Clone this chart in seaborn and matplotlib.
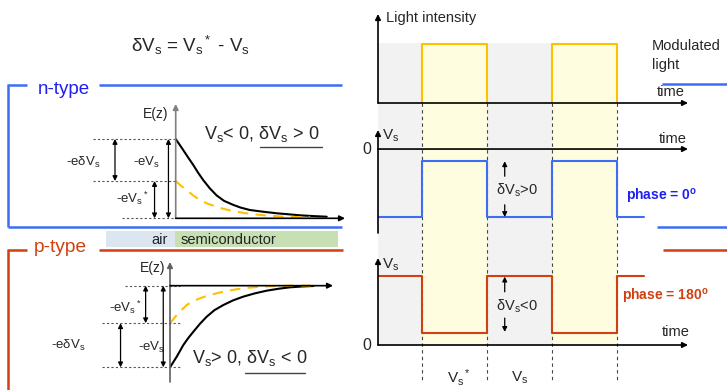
import numpy as np
import matplotlib
matplotlib.use("Agg")
import matplotlib.pyplot as plt
import seaborn as sns

sns.set_theme(style="white")
plt.rcParams['font.family'] = ['Liberation Sans', 'DejaVu Sans']
plt.rcParams['mathtext.fontset'] = 'custom'
plt.rcParams['mathtext.rm'] = 'Liberation Sans'
plt.rcParams['mathtext.it'] = 'Liberation Sans:italic'

# ---------------- data ----------------
# n-type band bending (depth z, energy E; -eVs = 1)
n_z_black = [0, 0.025, 0.05, 0.083, 0.117, 0.15, 0.183, 0.225, 0.27, 0.32, 0.38, 0.43,
             0.49, 0.57, 0.67, 0.75, 0.82, 0.91, 1.0]
n_E_black = [1.0, 0.93, 0.86, 0.765, 0.67, 0.57, 0.48, 0.38, 0.29, 0.22, 0.17, 0.135,
             0.105, 0.085, 0.063, 0.05, 0.038, 0.028, 0.02]
n_z_light = [0, 0.035, 0.073, 0.115, 0.161, 0.21, 0.27, 0.32, 0.38, 0.46, 0.56, 0.71, 0.89]
n_E_light = [0.47, 0.41, 0.357, 0.29, 0.23, 0.185, 0.146, 0.117, 0.092, 0.065, 0.042, 0.02, 0.013]
n_eVs, n_eVs_star = 1.0, 0.47

# p-type band bending
p_z_black = [0, 0.047, 0.093, 0.128, 0.163, 0.21, 0.256, 0.31, 0.372, 0.44, 0.51, 0.59,
             0.675, 0.76, 0.837, 0.92, 1.0]
p_E_black = [-1.0, -0.87, -0.727, -0.64, -0.564, -0.465, -0.38, -0.30, -0.237, -0.18,
             -0.135, -0.095, -0.061, -0.037, -0.02, -0.01, -0.004]
p_z_light = [0, 0.047, 0.08, 0.116, 0.16, 0.209, 0.265, 0.326, 0.39, 0.465, 0.55, 0.628,
             0.73, 0.837, 1.0]
p_E_light = [-0.46, -0.36, -0.30, -0.237, -0.19, -0.155, -0.12, -0.093, -0.066, -0.044,
             -0.025, -0.012, -0.004, 0.0, 0.0]
p_eVs, p_eVs_star = -1.0, -0.46

# modulated light and surface voltage (time in half periods)
time_edges = [0.0, 0.68, 1.68, 2.68, 3.68, 4.10]
light = [0, 1, 0, 1, 0]
vs_n = [-1.0, -0.18, -1.0, -0.18, -1.0]
vs_p = [1.0, 0.17, 1.0, 0.17, 1.0]

# ---------------- styles ----------------
BLUE = '#3d6df2'
NBLUE = '#1f1ff0'
RED = '#d04010'
YEL = '#ffc000'
YFILL = '#fffde0'
GRAY_BG = '#f2f2f2'
W, H = 727, 390

fig = plt.figure(figsize=(W / 100, H / 100), dpi=100)


def add_ax(x0, y0, x1, y1):
    ax = fig.add_axes([x0 / W, 1 - y1 / H, (x1 - x0) / W, (y1 - y0) / H])
    ax.set_facecolor('none')
    ax.axis('off')
    return ax


def arrow(ax, p0, p1, lw=1.0, color='black', style='-|>', ms=8, coords='data'):
    ax.annotate('', xy=p1, xytext=p0, xycoords=coords, textcoords=coords,
                arrowprops=dict(arrowstyle=style, lw=lw, color=color,
                                mutation_scale=ms, shrinkA=0, shrinkB=0),
                annotation_clip=False)


def steps(edges, vals):
    xs, ys = [], []
    for i, v in enumerate(vals):
        xs += [edges[i], edges[i + 1]]
        ys += [v, v]
    return xs, ys


# background axes in pixel space
bg = add_ax(0, 0, W, H)
bg.set_xlim(0, W)
bg.set_ylim(H, 0)
# foreground text layer in pixel space
fg = add_ax(0, 0, W, H)
fg.set_xlim(0, W)
fg.set_ylim(H, 0)
fg.set_zorder(10)

# title
bg.text(190, 45, r'$\mathregular{δV_s}$ = $\mathregular{V_s}^*$ - $\mathregular{V_s}$',
        fontsize=13.5, ha='center', va='center')

# n-type frame
fl = dict(color=BLUE, lw=1.8, solid_capstyle='butt')
bg.plot([8, 27], [85, 85], **fl)
bg.plot([99, 342], [85, 85], **fl)
bg.plot([8, 8], [84, 227], **fl)
bg.plot([8, 342], [227, 227], **fl)
bg.plot([662, 727], [84, 84], **fl)
bg.plot([657, 727], [227, 227], **fl)
bg.text(64, 89, 'n-type', color=NBLUE, fontsize=13.5, ha='center', va='center')

# p-type frame
fr = dict(color=RED, lw=1.8, solid_capstyle='butt')
bg.plot([8, 27], [250, 250], **fr)
bg.plot([99, 343], [250, 250], **fr)
bg.plot([8, 8], [249, 390], **fr)
bg.plot([663, 727], [250, 250], **fr)
bg.text(60, 248, 'p-type', color=RED, fontsize=13.8, ha='center', va='center')

# air / semiconductor bar
bg.add_patch(plt.Rectangle((106, 231), 69, 16, color='#dce6f1', lw=0))
bg.add_patch(plt.Rectangle((175, 231), 163, 16, color='#c6e0b4', lw=0))
bg.text(168, 240, 'air', fontsize=10.5, ha='right', va='center', color='#222222')
bg.text(181, 240, 'semiconductor', fontsize=10.5, ha='left', va='center', color='#222222')

# ---------------- n-type band diagram ----------------
axn = add_ax(175.7, 104, 345, 218.3)
axn.set_xlim(0, 1.121)
axn.set_ylim(0, 1.441)
sns.lineplot(x=n_z_black, y=n_E_black, ax=axn, color='black', lw=1.5)
sns.lineplot(x=n_z_light, y=n_E_light, ax=axn, color=YEL, lw=1.5, linestyle=(0, (5, 3.5)))
arrow(axn, (0, 0), (0, 1.441), lw=1.2, color='#808080')
arrow(axn, (0, 0), (1.121, 0), lw=1.2)
dl = dict(color='#555555', lw=0.8, ls=(0, (2, 2)), clip_on=False)
axn.plot([-0.548, 0], [n_eVs, n_eVs], **dl)
axn.plot([-0.548, 0], [n_eVs_star, n_eVs_star], **dl)
axn.plot([-0.356, 0], [0, 0], **dl)
arrow(axn, (-0.402, n_eVs), (-0.402, n_eVs_star), lw=0.9, style='<|-|>', ms=7)
arrow(axn, (-0.048, 0), (-0.048, n_eVs), lw=0.9, style='<|-|>', ms=7)
arrow(axn, (-0.14, 0), (-0.14, n_eVs_star), lw=0.9, style='<|-|>', ms=7)
st = dict(fontsize=9.5, ha='center', va='center')
axn.text(-0.61, 0.70, r'-e$\mathregular{δV_s}$', **st)
axn.text(-0.19, 0.70, r'-e$\mathregular{V_s}$', **st)
axn.text(-0.29, 0.25, r'-e$\mathregular{V_s}^*$', **st)
axn.text(-0.135, 1.32, 'E(z)', fontsize=10, ha='center', va='center')
axn.text(0.185, 1.06, r'$\mathregular{V_s}$< 0, $\mathregular{δV_s}$ > 0', fontsize=13,
         ha='left', va='center')
axn.plot([0.555, 0.97], [0.905, 0.905], color='#444444', lw=1.0, clip_on=False)

# ---------------- p-type band diagram ----------------
axp = add_ax(170, 262, 333, 382)
axp.set_xlim(0, 1.137)
axp.set_ylim(-1.18, 0.29)
sns.lineplot(x=p_z_black, y=p_E_black, ax=axp, color='black', lw=1.5)
sns.lineplot(x=p_z_light, y=p_E_light, ax=axp, color=YEL, lw=1.5, linestyle=(0, (5, 3.5)))
arrow(axp, (0, -1.18), (0, 0.29), lw=1.2, color='#606060')
arrow(axp, (0, 0), (1.137, 0), lw=1.2)
axp.plot([-0.314, 0.07], [0, 0], **dl)
axp.plot([-0.474, 0.084], [p_eVs_star, p_eVs_star], **dl)
axp.plot([-0.474, 0.084], [p_eVs, p_eVs], **dl)
arrow(axp, (-0.17, 0), (-0.17, p_eVs_star), lw=0.9, style='<|-|>', ms=7)
arrow(axp, (-0.047, 0), (-0.047, p_eVs), lw=0.9, style='<|-|>', ms=7)
arrow(axp, (-0.345, p_eVs_star), (-0.345, p_eVs), lw=0.9, style='<|-|>', ms=7)
axp.text(-0.31, -0.26, r'-e$\mathregular{V_s}^*$', **st)
axp.text(-0.71, -0.73, r'-e$\mathregular{δV_s}$', **st)
axp.text(-0.13, -0.76, r'-e$\mathregular{V_s}$', **st)
axp.text(-0.12, 0.22, 'E(z)', fontsize=10, ha='center', va='center')
axp.text(0.15, -0.88, r'$\mathregular{V_s}$> 0, $\mathregular{δV_s}$ < 0', fontsize=13,
         ha='left', va='center')
axp.plot([0.524, 0.94], [-1.07, -1.07], color='#444444', lw=1.0, clip_on=False)

# ---------------- right: columns ----------------
TX = 4.77
axc = add_ax(378, 0, 688, H)
axc.set_xlim(0, TX)
axc.set_ylim(H, 0)
axc.fill_between([time_edges[0], time_edges[-2]], 43, 345, color=GRAY_BG, lw=0)
for i, v in enumerate(light):
    if v:
        axc.fill_between([time_edges[i], time_edges[i + 1]], 43, 345, color=YFILL, lw=0)
for e in time_edges[1:-1]:
    axc.plot([e, e], [103, 380], color='#444444', lw=0.8, ls=(0, (3, 3)))

# light intensity
ax1 = add_ax(378, 14, 688, 103)
ax1.set_xlim(0, TX)
ax1.set_ylim(0, 1.508)
for i, v in enumerate(light):
    if v:
        ax1.plot([time_edges[i], time_edges[i], time_edges[i + 1], time_edges[i + 1]],
                 [0, v, v, 0], color=YEL, lw=1.5)
arrow(ax1, (0, 0), (0, 1.508), lw=1.2)
arrow(ax1, (0, 0), (TX, 0), lw=1.2)
fg.text(386, 18, 'Light intensity', fontsize=10.5, ha='left', va='center')
fg.text(671, 92, 'time', fontsize=10.5, ha='center', va='center')
fg.text(652, 46, 'Modulated', fontsize=10.5, ha='left', va='center')
fg.text(652, 65, 'light', fontsize=10.5, ha='left', va='center')

# Vs n-type (phase 0)
ax2 = add_ax(378, 130, 688, 233)
ax2.set_xlim(0, TX)
ax2.set_ylim(-1.235, 0.28)
nx, ny = steps(time_edges, vs_n)
sns.lineplot(x=nx, y=ny, ax=ax2, color=BLUE, lw=1.5, sort=False, estimator=None)
arrow(ax2, (0, -1.235), (0, 0.28), lw=1.2)
arrow(ax2, (0, 0), (TX, 0), lw=1.2)
arrow(ax2, (1.95, -0.40), (1.95, vs_n[1]), lw=0.9, ms=7)
arrow(ax2, (1.95, -0.82), (1.95, vs_n[2]), lw=0.9, ms=7)
ax2.text(2.14, -0.60, r'$\mathregular{δV_s}$>0', fontsize=10.5, ha='center', va='center')
fg.text(382, 136, r'$\mathregular{V_s}$', fontsize=11, ha='left', va='center')
fg.text(367, 150, '0', fontsize=11.5, ha='center', va='center')
fg.text(673, 139, 'time', fontsize=10.5, ha='center', va='center')
fg.text(626, 197, r'phase = 0$^{\mathregular{o}}$', fontsize=10, fontweight='bold',
        color=NBLUE, ha='left', va='center')

# Vs p-type (phase 180)
ax3 = add_ax(378, 258, 688, 345)
ax3.set_xlim(0, TX)
ax3.set_ylim(0, 1.26)
px, py = steps(time_edges, vs_p)
sns.lineplot(x=px, y=py, ax=ax3, color=RED, lw=1.5, sort=False, estimator=None)
arrow(ax3, (0, 0), (0, 1.26), lw=1.2)
arrow(ax3, (0, 0), (TX, 0), lw=1.2)
arrow(ax3, (1.95, 0.77), (1.95, vs_p[2] - 0.01), lw=0.9, ms=7)
arrow(ax3, (1.95, 0.39), (1.95, vs_p[1] + 0.02), lw=0.9, ms=7)
ax3.text(2.14, 0.565, r'$\mathregular{δV_s}$<0', fontsize=10.5, ha='center', va='center')
fg.text(382, 265, r'$\mathregular{V_s}$', fontsize=11, ha='left', va='center')
fg.text(367, 345, '0', fontsize=11.5, ha='center', va='center')
fg.text(676, 332, 'time', fontsize=10.5, ha='center', va='center')
fg.text(622, 297, r'phase = 180$^{\mathregular{o}}$', fontsize=10, fontweight='bold',
        color=RED, ha='left', va='center')

# bottom labels
fg.text(459, 378, r'$\mathregular{V_s}^*$', fontsize=11, ha='center', va='center')
fg.text(520, 378, r'$\mathregular{V_s}$', fontsize=11, ha='center', va='center')

fig.savefig('out.png', dpi=100)
